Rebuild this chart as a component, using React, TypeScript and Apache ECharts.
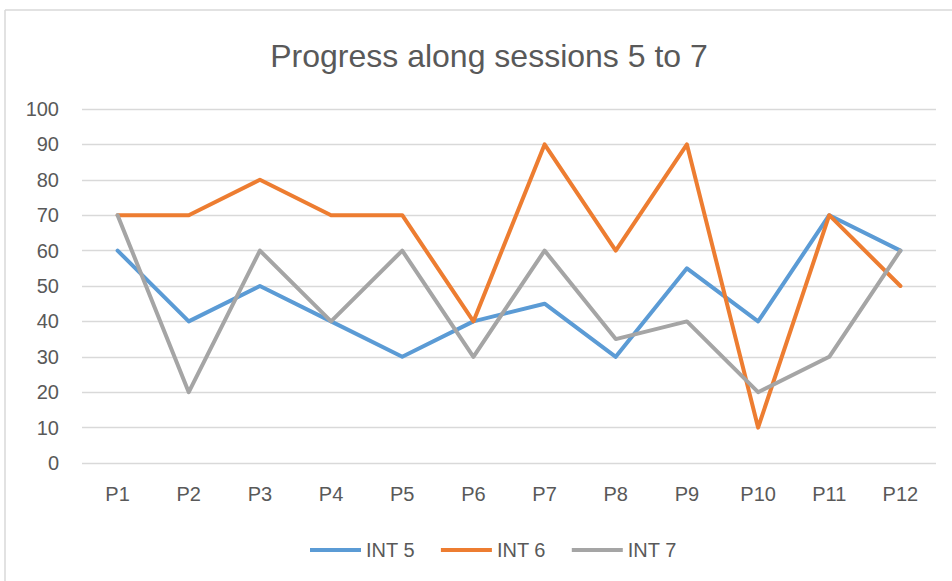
import React, { useEffect, useRef } from "react";
import * as echarts from "echarts";

const categories = ["P1", "P2", "P3", "P4", "P5", "P6", "P7", "P8", "P9", "P10", "P11", "P12"];
const int5 = [60, 40, 50, 40, 30, 40, 45, 30, 55, 40, 70, 60];
const int6 = [70, 70, 80, 70, 70, 40, 90, 60, 90, 10, 70, 50];
const int7 = [70, 20, 60, 40, 60, 30, 60, 35, 40, 20, 30, 60];
const seriesNames = ["INT 5", "INT 6", "INT 7"];
const colors = ["#5B9BD5", "#ED7D31", "#A5A5A5"];

export default function App() {
  const ref = useRef<HTMLDivElement>(null);
  useEffect(() => {
    if (!ref.current) return;
    const chart = echarts.init(ref.current, undefined, { renderer: "svg" });
    const font = "'Liberation Sans', Arial, sans-serif";
    const data = [int5, int6, int7];
    chart.setOption({
      animation: false,
      backgroundColor: "#ffffff",
      textStyle: { fontFamily: font },
      title: {
        text: "Progress along sessions 5 to 7",
        left: 484,
        textAlign: "center",
        top: 35,
        textStyle: { fontSize: 32, fontWeight: "normal", color: "#595959", fontFamily: font },
      },
      legend: {
        data: seriesNames,
        left: 305,
        top: 535,
        itemWidth: 51,
        itemHeight: 4,
        itemGap: 26,
        icon: "rect",
        textStyle: { fontSize: 20, color: "#595959", fontFamily: font },
      },
      grid: { left: 82, right: 16, top: 109, bottom: 118, containLabel: false },
      xAxis: {
        type: "category",
        data: categories,
        boundaryGap: true,
        axisLine: { show: false },
        axisTick: { show: false },
        axisLabel: { fontSize: 20, color: "#595959", margin: 21, fontFamily: font },
      },
      yAxis: {
        type: "value",
        min: 0,
        max: 100,
        interval: 10,
        axisLine: { show: false },
        axisTick: { show: false },
        axisLabel: { fontSize: 20, color: "#595959", margin: 23, fontFamily: font },
        splitLine: { lineStyle: { color: "#D9D9D9", width: 1.3 } },
      },
      series: seriesNames.map((name, i) => ({
        name,
        type: "line",
        data: data[i],
        showSymbol: false,
        symbol: "none",
        lineStyle: { color: colors[i], width: 4, join: "round", cap: "round" },
        itemStyle: { color: colors[i] },
      })),
      graphic: [
        { type: "line", shape: { x1: 5, y1: 10, x2: 952, y2: 10 }, style: { stroke: "#D9D9D9", lineWidth: 1.5 } },
        { type: "line", shape: { x1: 5, y1: 10, x2: 5, y2: 581 }, style: { stroke: "#D9D9D9", lineWidth: 1.5 } },
      ],
    });
    return () => chart.dispose();
  }, []);
  return (
    <div
      ref={ref}
      style={{ position: "fixed", left: 0, top: 0, width: 952, height: 581 }}
    />
  );
}
